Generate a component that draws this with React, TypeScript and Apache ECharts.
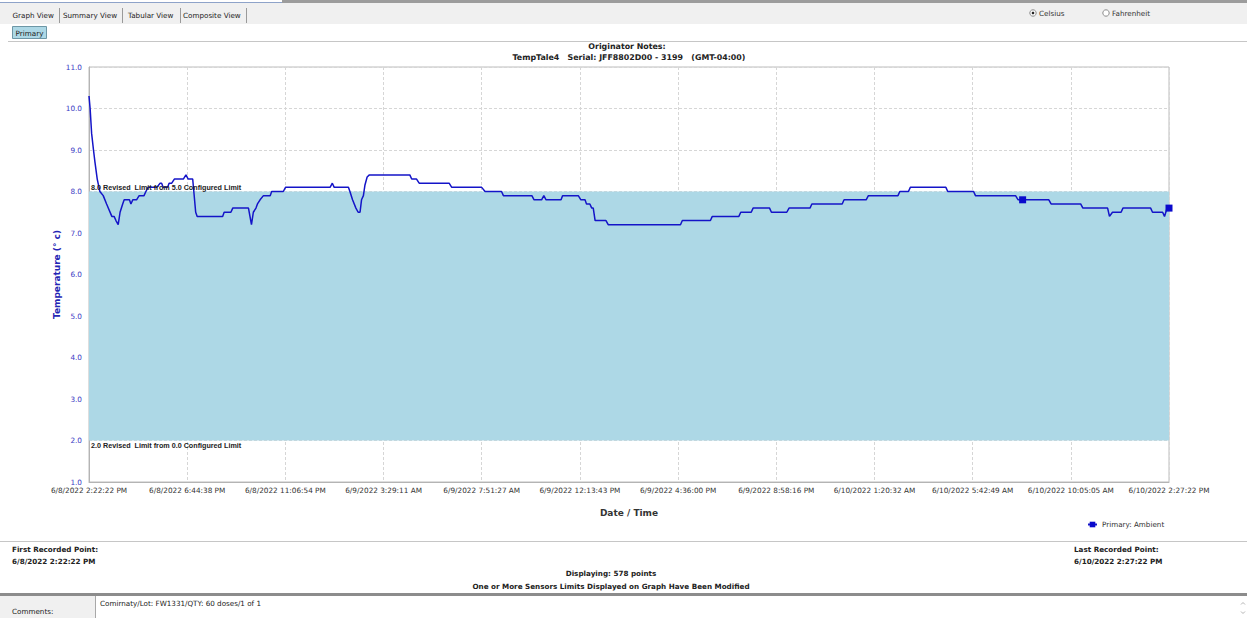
import React, { useEffect, useRef } from 'react';
import * as echarts from 'echarts';

// ---------- data ----------
const X_TICK_LABELS = [
  '6/8/2022 2:22:22 PM',
  '6/8/2022 6:44:38 PM',
  '6/8/2022 11:06:54 PM',
  '6/9/2022 3:29:11 AM',
  '6/9/2022 7:51:27 AM',
  '6/9/2022 12:13:43 PM',
  '6/9/2022 4:36:00 PM',
  '6/9/2022 8:58:16 PM',
  '6/10/2022 1:20:32 AM',
  '6/10/2022 5:42:49 AM',
  '6/10/2022 10:05:05 AM',
  '6/10/2022 2:27:22 PM',
];
const TOTAL_MINUTES = 2885; // 6/8 2:22:22 PM -> 6/10 2:27:22 PM
const Y_MIN = 1;
const Y_MAX = 11;
const LIMIT_LOW = 2.0;
const LIMIT_HIGH = 8.0;
const LIMIT_HIGH_LABEL = '8.0 Revised  Limit from 5.0 Configured Limit';
const LIMIT_LOW_LABEL = '2.0 Revised  Limit from 0.0 Configured Limit';

// minutes elapsed since first recorded point
const ELAPSED_MIN = [
  0, 3, 7, 12, 16, 22, 29, 38, 47, 61, 67, 72, 78, 83, 90, 94, 102, 108, 112, 117,
  127, 134, 147, 152, 158, 181, 190, 194, 198, 210, 214, 221, 228, 252, 259, 265, 277, 280, 285, 289,
  357, 361, 379, 384, 426, 430, 434, 439, 446, 450, 457, 466, 484, 488, 519, 525,
  644, 650, 655, 693, 697, 704, 713, 719, 724, 728, 733, 737, 743, 749, 857, 862, 875, 882,
  962, 969, 1049, 1058, 1102, 1107, 1183, 1189, 1209, 1215, 1221, 1261, 1265, 1307, 1314, 1325,
  1329, 1338, 1343, 1347, 1352, 1381, 1387,
  1580, 1585, 1660, 1665, 1736, 1741, 1769, 1774, 1818, 1823, 1864, 1870, 1926, 1931, 2012, 2017,
  2076, 2082, 2161, 2166, 2189, 2194, 2289, 2294, 2363, 2368, 2475, 2482, 2494, 2564, 2570, 2649,
  2655, 2721, 2726, 2734, 2757, 2762, 2836, 2841, 2868, 2873, 2880, 2885,
];
const TEMP_C = [
  10.3, 10.0, 9.4, 9.0, 8.7, 8.3, 8.0, 7.9, 7.7, 7.4, 7.4, 7.3, 7.2, 7.5, 7.7, 7.8, 7.8, 7.8, 7.7, 7.8,
  7.8, 7.9, 7.9, 8.0, 8.1, 8.1, 8.2, 8.2, 8.1, 8.1, 8.2, 8.2, 8.3, 8.3, 8.4, 8.3, 8.3, 8.0, 7.5, 7.4,
  7.4, 7.5, 7.5, 7.6, 7.6, 7.4, 7.2, 7.5, 7.6, 7.7, 7.8, 7.9, 7.9, 8.0, 8.0, 8.1,
  8.1, 8.2, 8.1, 8.1, 8.0, 7.8, 7.6, 7.5, 7.5, 7.8, 7.9, 8.15, 8.35, 8.4, 8.4, 8.3, 8.3, 8.2,
  8.2, 8.1, 8.1, 8.0, 8.0, 7.9, 7.9, 7.8, 7.8, 7.9, 7.8, 7.8, 7.9, 7.9, 7.8, 7.8,
  7.7, 7.7, 7.6, 7.6, 7.3, 7.3, 7.2,
  7.2, 7.3, 7.3, 7.4, 7.4, 7.5, 7.5, 7.6, 7.6, 7.5, 7.5, 7.6, 7.6, 7.7, 7.7, 7.8,
  7.8, 7.9, 7.9, 8.0, 8.0, 8.1, 8.1, 8.0, 8.0, 7.9, 7.9, 7.8, 7.8, 7.8, 7.7, 7.7,
  7.6, 7.6, 7.4, 7.5, 7.5, 7.6, 7.6, 7.5, 7.5, 7.4, 7.6, 7.6,
];
const MARKER_MIN = [2494, 2885];

const SERIES_NAME = 'Primary: Ambient';
const TABS = ['Graph View', 'Summary View', 'Tabular View', 'Composite View'];

const UI_FONT = 'DejaVu Sans';
const FS = 7.2;
const TITLE_FS = 7.9;

function buildOption(): any {
  const tabX = [12.5, 63, 128, 183];
  const tabSep = [59.5, 122.5, 180.5, 246.5];
  const graphics: any[] = [
    { type: 'rect', shape: { x: 0, y: 0, width: 1247, height: 3 }, style: { fill: '#9c9c9c' }, silent: true },
    { type: 'rect', shape: { x: 0, y: 0, width: 282, height: 2 }, style: { fill: '#ffffff' }, silent: true },
    { type: 'line', shape: { x1: 0, y1: 2.5, x2: 282, y2: 2.5 }, style: { stroke: '#8ea3c9', lineWidth: 1 }, silent: true },
    { type: 'rect', shape: { x: 0, y: 3, width: 1247, height: 21 }, style: { fill: '#f0f0f0' }, silent: true },
    ...TABS.map((t, i) => ({
      type: 'text', x: tabX[i], y: 15, silent: true,
      style: { text: t, fill: '#222', font: `${FS}px "${UI_FONT}"`, verticalAlign: 'middle' },
    })),
    ...tabSep.map((x) => ({
      type: 'line', shape: { x1: x, y1: 8, x2: x, y2: 23 }, style: { stroke: '#9a9a9a', lineWidth: 1 }, silent: true,
    })),
    { type: 'rect', shape: { x: 12.5, y: 26.5, width: 34, height: 12 }, style: { fill: '#add8e6', stroke: '#6d97a6', lineWidth: 1 }, silent: true },
    { type: 'text', x: 29.5, y: 33, silent: true, style: { text: 'Primary', fill: '#222', font: `${FS}px "${UI_FONT}"`, align: 'center', verticalAlign: 'middle' } },
    { type: 'circle', shape: { cx: 1033, cy: 13, r: 3.2 }, style: { fill: '#fff', stroke: '#8a8a8a', lineWidth: 1 }, silent: true },
    { type: 'circle', shape: { cx: 1033, cy: 13, r: 1.3 }, style: { fill: '#222' }, silent: true },
    { type: 'text', x: 1039, y: 13.5, silent: true, style: { text: 'Celsius', fill: '#333', font: `${FS}px "${UI_FONT}"`, verticalAlign: 'middle' } },
    { type: 'circle', shape: { cx: 1106, cy: 13, r: 3.2 }, style: { fill: '#fff', stroke: '#8a8a8a', lineWidth: 1 }, silent: true },
    { type: 'text', x: 1112, y: 13.5, silent: true, style: { text: 'Fahrenheit', fill: '#333', font: `${FS}px "${UI_FONT}"`, verticalAlign: 'middle' } },
    { type: 'line', shape: { x1: 8, y1: 41.5, x2: 1247, y2: 41.5 }, style: { stroke: '#c6c6c6', lineWidth: 1 }, silent: true },
    // bottom info
    { type: 'line', shape: { x1: 0, y1: 541.5, x2: 1247, y2: 541.5 }, style: { stroke: '#c6c6c6', lineWidth: 1 }, silent: true },
    { type: 'text', x: 12, y: 549.5, silent: true, style: { text: 'First Recorded Point:', fill: '#222', font: `bold ${FS}px "${UI_FONT}"`, verticalAlign: 'middle' } },
    { type: 'text', x: 12, y: 561.5, silent: true, style: { text: X_TICK_LABELS[0], fill: '#222', font: `bold ${FS}px "${UI_FONT}"`, verticalAlign: 'middle' } },
    { type: 'text', x: 1074, y: 549.5, silent: true, style: { text: 'Last Recorded Point:', fill: '#222', font: `bold ${FS}px "${UI_FONT}"`, verticalAlign: 'middle' } },
    { type: 'text', x: 1074, y: 561.5, silent: true, style: { text: X_TICK_LABELS[X_TICK_LABELS.length - 1], fill: '#222', font: `bold ${FS}px "${UI_FONT}"`, verticalAlign: 'middle' } },
    { type: 'text', x: 611, y: 573.5, silent: true, style: { text: `Displaying: ${578} points`, fill: '#222', font: `bold ${FS}px "${UI_FONT}"`, align: 'center', verticalAlign: 'middle' } },
    { type: 'text', x: 611, y: 586.5, silent: true, style: { text: 'One or More Sensors Limits Displayed on Graph Have Been Modified', fill: '#222', font: `bold ${FS}px "${UI_FONT}"`, align: 'center', verticalAlign: 'middle' } },
    // comments area
    { type: 'rect', shape: { x: 0, y: 593, width: 1247, height: 3 }, style: { fill: '#8c8c8c' }, silent: true },
    { type: 'rect', shape: { x: 0, y: 596, width: 96, height: 22 }, style: { fill: '#f0f0f0' }, silent: true },
    { type: 'line', shape: { x1: 95.5, y1: 596, x2: 95.5, y2: 618 }, style: { stroke: '#a8a8a8', lineWidth: 1 }, silent: true },
    { type: 'text', x: 12, y: 611, silent: true, style: { text: 'Comments:', fill: '#222', font: `${FS}px "${UI_FONT}"`, verticalAlign: 'middle' } },
    { type: 'text', x: 100, y: 603.5, silent: true, style: { text: 'Comirnaty/Lot: FW1331/QTY: 60 doses/1 of 1', fill: '#222', font: `${FS}px "${UI_FONT}"`, verticalAlign: 'middle' } },
    { type: 'polyline', shape: { points: [[1241, 604.5], [1243, 602.5], [1245, 604.5]] }, style: { stroke: '#b4b4b4', lineWidth: 1, fill: 'none' }, silent: true },
    { type: 'polyline', shape: { points: [[1241, 611.5], [1243, 613.5], [1245, 611.5]] }, style: { stroke: '#b4b4b4', lineWidth: 1, fill: 'none' }, silent: true },
  ];

  const markerSet = new Set(MARKER_MIN);
  const mainData = ELAPSED_MIN.map((t, i) =>
    markerSet.has(t) ? { value: [t, TEMP_C[i]] } : { value: [t, TEMP_C[i]], symbol: 'none' }
  );

  const limitLabelStyle = { fontFamily: 'Liberation Sans', fontWeight: 'bold', fontSize: 7.2, color: '#222', distance: [2, 1], padding: 0, show: true };

  return {
    animation: false,
    backgroundColor: '#ffffff',
    textStyle: { fontFamily: UI_FONT },
    title: [
      {
        text: 'Originator Notes:', left: 627, top: 42, textAlign: 'center', padding: 0,
        textStyle: { fontFamily: UI_FONT, fontWeight: 'bold', fontSize: TITLE_FS, color: '#222' },
      },
      {
        text: 'TempTale4   Serial: JFF8802D00 - 3199   (GMT-04:00)', left: 629, top: 53.5, textAlign: 'center', padding: 0,
        textStyle: { fontFamily: UI_FONT, fontWeight: 'bold', fontSize: TITLE_FS, color: '#222' },
      },
    ],
    legend: {
      data: [SERIES_NAME], left: 1087, top: 521, itemWidth: 9, itemHeight: 7, itemGap: 4, padding: 0,
      textStyle: { fontFamily: UI_FONT, fontSize: FS, color: '#333' },
    },
    grid: { left: 89, top: 67, width: 1080, height: 415, show: true, borderColor: '#bdbdbd', borderWidth: 1, backgroundColor: 'transparent' },
    xAxis: [
      { type: 'value', min: 0, max: TOTAL_MINUTES, show: false, gridIndex: 0 },
      {
        type: 'value', min: 0, max: X_TICK_LABELS.length - 1, interval: 1, position: 'bottom', gridIndex: 0,
        name: 'Date / Time', nameLocation: 'middle', nameGap: 26,
        nameTextStyle: { fontFamily: UI_FONT, fontWeight: 'bold', fontSize: 9, color: '#333' },
        axisLine: { show: true, lineStyle: { color: '#b4b4b4', width: 1 } },
        axisTick: { show: false },
        splitLine: { show: true, lineStyle: { color: '#d6d6d6', type: [3, 2], width: 1 } },
        axisLabel: {
          margin: 5, fontFamily: UI_FONT, fontSize: 7.3, color: '#333', hideOverlap: false,
          formatter: (v: number) => X_TICK_LABELS[Math.round(v)] ?? '',
        },
      },
    ],
    yAxis: {
      type: 'value', min: Y_MIN, max: Y_MAX, interval: 1,
      name: 'Temperature (° c)', nameLocation: 'middle', nameGap: 28, nameRotate: 90, nameMoveOverlap: false,
      nameTextStyle: { fontFamily: UI_FONT, fontWeight: 'bold', fontSize: 9, color: '#2424b4' },
      axisLine: { show: true, lineStyle: { color: '#b4b4b4', width: 1 } },
      axisTick: { show: false },
      splitLine: { show: true, lineStyle: { color: '#d6d6d6', type: [3, 2], width: 1 } },
      axisLabel: { margin: 7, fontFamily: UI_FONT, fontSize: 7.3, color: '#3a3ac4', formatter: (v: number) => v.toFixed(1) },
    },
    series: [
      {
        type: 'line', name: 'limits-band', xAxisIndex: 0, yAxisIndex: 0, z: -1, silent: true, data: [],
        symbol: 'none',
        markArea: {
          silent: true, itemStyle: { color: '#add8e6', opacity: 1 },
          data: [[{ yAxis: LIMIT_LOW }, { yAxis: LIMIT_HIGH }]],
        },
      },
      {
        type: 'line', name: SERIES_NAME, xAxisIndex: 0, yAxisIndex: 0, z: 3,
        symbol: 'rect', symbolSize: 7, showSymbol: true, showAllSymbol: true,
        lineStyle: { color: '#1414c8', width: 1.5 },
        itemStyle: { color: '#0a0acc' },
        emphasis: { disabled: true },
        data: mainData,
      },
      {
        type: 'line', name: 'limit-labels', xAxisIndex: 0, yAxisIndex: 0, z: 4, silent: true, data: [],
        symbol: 'none',
        markLine: {
          silent: true, symbol: ['none', 'none'],
          lineStyle: { color: 'rgba(0,0,0,0)', width: 0, type: 'solid' },
          label: limitLabelStyle,
          data: [
            { yAxis: LIMIT_HIGH, label: { ...limitLabelStyle, formatter: LIMIT_HIGH_LABEL, position: 'insideStartTop' } },
            { yAxis: LIMIT_LOW, label: { ...limitLabelStyle, formatter: LIMIT_LOW_LABEL, position: 'insideStartBottom' } },
          ],
        },
      },
    ],
    graphic: graphics,
  };
}

export default function App() {
  const ref = useRef<HTMLDivElement>(null);
  useEffect(() => {
    document.body.style.margin = '0';
    document.body.style.overflow = 'hidden';
    if (!ref.current) return;
    const chart = echarts.init(ref.current, undefined, { renderer: 'svg' });
    chart.setOption(buildOption());
    return () => chart.dispose();
  }, []);
  return <div ref={ref} style={{ width: 1247, height: 618 }} />;
}
